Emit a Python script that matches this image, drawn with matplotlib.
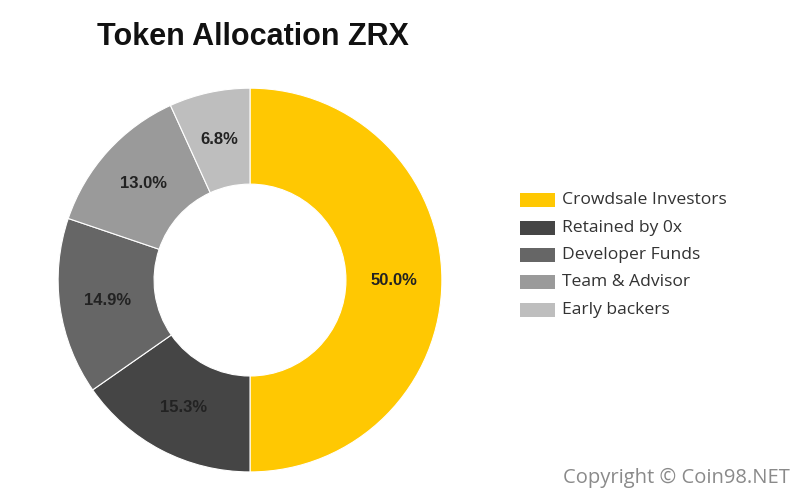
import matplotlib
matplotlib.use("Agg")
import matplotlib.pyplot as plt
from matplotlib.patches import Rectangle

labels = ["Crowdsale Investors", "Retained by 0x", "Developer Funds", "Team & Advisor", "Early backers"]
values = [50.0, 15.3, 14.9, 13.0, 6.8]
colors = ["#FFC802", "#454545", "#666666", "#9A9A9A", "#BEBEBE"]

fig = plt.figure(figsize=(8, 5.01), dpi=100)
fig.patch.set_facecolor("white")
ax = fig.add_axes([0.0725, 0.058, 0.48, 0.766])
ax.pie(values, colors=colors, startangle=90, counterclock=False,
       wedgeprops=dict(width=0.5, edgecolor="white", linewidth=0.8),
       autopct=lambda p: f"{p:.1f}%", pctdistance=0.75,
       textprops=dict(fontsize=12, fontweight="bold", color="#222222", family="Liberation Sans"))
ax.set_aspect("equal")
ax.set_xlim(-1, 1)
ax.set_ylim(-1, 1)

fig.text(0.316, 0.927, "Token Allocation ZRX", ha="center", va="center",
         fontsize=22, fontweight="bold", family="Liberation Sans", color="#111111")

ys = [200, 228, 255, 282, 310]
for lab, col, y in zip(labels, colors, ys):
    fig.patches.append(Rectangle((520/800, 1 - (y + 7)/501), 35/800, 14/501,
                                 transform=fig.transFigure, facecolor=col, edgecolor="none"))
    fig.text(562/800, 1 - y/501, lab, ha="left", va="center", fontsize=12.6,
             family="Open Sans", color="#333333")

fig.text(790/800, 1 - 478/501, "Copyright © Coin98.NET", ha="right", va="center",
         fontsize=14.5, family="Open Sans", color="#8a8a8a")

fig.savefig("out.png", dpi=100)
